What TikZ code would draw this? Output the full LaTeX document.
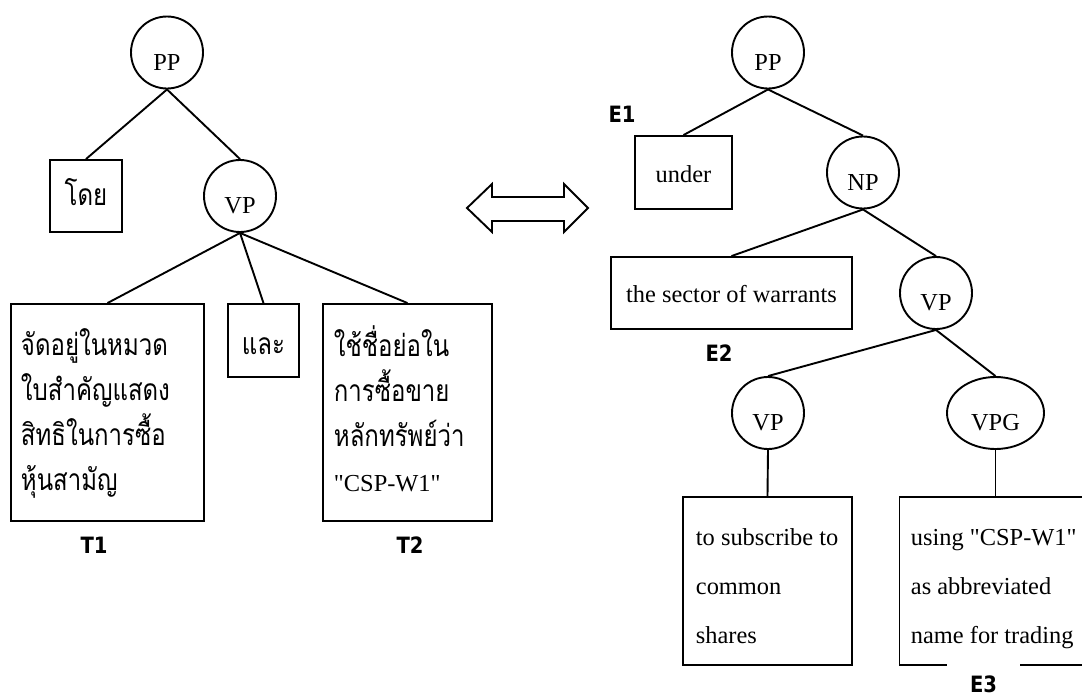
\documentclass[tikz,border=0pt]{standalone}
\usepackage{fontspec}
\setmainfont{Liberation Serif}
\newfontfamily\thaifont[Script=Thai,FakeStretch=0.8]{Loma}
\newfontfamily\labfont[FakeStretch=0.87]{DejaVu Sans}
\usetikzlibrary{shapes.geometric}
\newcommand{\dq}{\textquotedbl}
\begin{document}
\begin{tikzpicture}[x=1pt,y=-1pt,line width=1.9pt,
  circ/.style={draw,circle,minimum size=72pt,inner sep=0pt,text height=35pt,text depth=0pt,font=\fontsize{24.4}{30}\selectfont},
  ell/.style={draw,ellipse,minimum width=97pt,minimum height=72pt,inner sep=0pt,text height=35pt,text depth=0pt,font=\fontsize{24.4}{30}\selectfont},
  boxn/.style={draw,rectangle,inner sep=0pt},
  thtxt/.style={inner sep=0pt,anchor=north west,align=left,font=\thaifont\fontsize{30}{45}\selectfont},
  entxt/.style={inner sep=0pt,anchor=north west,align=left,font=\fontsize{24.4}{49}\selectfont},
  lab/.style={inner sep=0pt,font=\labfont\bfseries\fontsize{22.5}{22.5}\selectfont}
]
\clip (0,0) rectangle (1082,697);
\fill[white] (0,0) rectangle (1082,697);

% ---------- left tree ----------
\node[circ] (lPP) at (167,52.5) {PP};
\node[boxn,minimum width=72pt,minimum height=72pt,text height=26pt,text depth=8pt,font=\thaifont\fontsize{30}{45}\selectfont] (ldoy) at (86,196) {โดย};
\node[circ] (lVP) at (240,196) {VP};
\node[boxn,minimum width=193pt,minimum height=217pt] (lb1) at (107.5,412.5) {};
\node[boxn,minimum width=71pt,minimum height=73pt,text height=32pt,text depth=5pt,font=\thaifont\fontsize{30}{45}\selectfont] (lle) at (263.5,340.5) {และ};
\node[boxn,minimum width=169pt,minimum height=217pt] (lb3) at (407.5,412.5) {};
\node[thtxt] (lt1) at (20,325) {\rule{0pt}{30pt}จัดอยู่ในหมวด\\ใบสำคัญแสดง\\สิทธิในการซื้อ\\หุ้นสามัญ};
\node[thtxt] (lt3) at (333,325) {\rule{0pt}{30pt}ใช้ชื่อย่อใน\\การซื้อขาย\\หลักทรัพย์ว่า\\{\rmfamily\fontsize{24.4}{45}\selectfont \dq CSP-W1\dq}};

\draw (lPP.south) -- (ldoy.north);
\draw (lPP.south) -- (lVP.north);
\draw (lVP.south) -- (lb1.north);
\draw (lVP.south) -- (lle.north);
\draw (lVP.south) -- (lb3.north);

\node[lab] (T1) at (94,545) {T1};
\node[lab] (T2) at (410,545) {T2};

% ---------- double arrow ----------
\draw[line join=miter] (467,208) -- (492,184) -- (492,197) -- (564,197) -- (564,184) -- (588,208) -- (564,232) -- (564,221) -- (492,221) -- (492,232) -- cycle;

% ---------- right tree ----------
\node[circ] (rPP) at (768,52.5) {PP};
\node[boxn,minimum width=97pt,minimum height=73pt,text height=24pt,text depth=5pt,font=\fontsize{24.4}{30}\selectfont] (runder) at (683.5,172.5) {under};
\node[circ] (rNP) at (863,172.5) {NP};
\node[boxn,minimum width=241pt,minimum height=72pt,text height=24pt,text depth=6pt,font=\fontsize{24.4}{30}\selectfont] (rsector) at (731.5,293) {the sector of warrants};
\node[circ] (rVP) at (936,293) {VP};
\node[circ] (rVP2) at (768,413) {VP};
\node[ell] (rVPG) at (995.5,413) {VPG};
\node[boxn,minimum width=169pt,minimum height=168pt] (rb1) at (767.5,581) {};
\node[boxn,minimum width=192pt,minimum height=168pt] (rb2) at (995.5,581) {};
\node[entxt] (rt1) at (695,520) {\rule{0pt}{25pt}to subscribe to\\common\\shares};
\node[entxt] (rt2) at (910,520) {\rule{0pt}{25pt}using \dq CSP-W1\dq\\as abbreviated\\name for trading};

\draw (rPP.south) -- (runder.north);
\draw (rPP.south) -- (rNP.north);
\draw (rNP.south) -- (rsector.north);
\draw (rNP.south) -- (rVP.north);
\draw (rVP.south) -- (rVP2.north);
\draw (rVP.south) -- (rVPG.north);
\draw (rVP2.south) -- (rb1.north);
\draw (rVPG.south) -- (rb2.north);

\node[lab] (E1) at (622,114) {E1};
\node[lab] (E2) at (719,353) {E2};
\fill[white] (947,663) rectangle (1020,697);
\node[lab] (E3) at (983.5,684) {E3};
\end{tikzpicture}
\end{document}
